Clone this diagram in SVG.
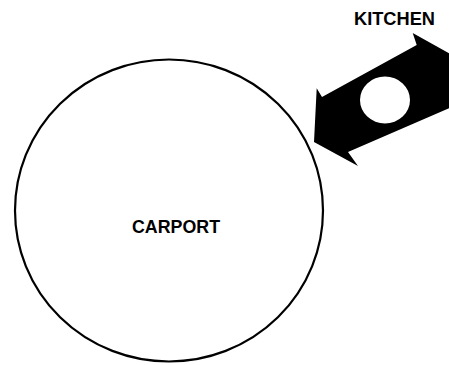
<svg xmlns="http://www.w3.org/2000/svg" width="449" height="365" viewBox="0 0 449 365">
  <style>
    .lbl { font-family: "Liberation Sans", Arial, sans-serif; font-weight: bold; font-size: 18px; fill: #000; }
    .outline { fill: none; stroke: #000; stroke-width: 2.2; }
  </style>
  <rect x="0" y="0" width="449" height="365" fill="#fff"/>
  <g id="carport">
    <ellipse class="outline" cx="169" cy="210.5" rx="154" ry="151"/>
    <text class="lbl" x="132" y="232.5" textLength="88" lengthAdjust="spacingAndGlyphs">CARPORT</text>
  </g>
  <g id="kitchen">
    <text class="lbl" x="354" y="25" textLength="81" lengthAdjust="spacingAndGlyphs">KITCHEN</text>
  </g>
  <g id="connectors">
    <path fill="#000" fill-rule="evenodd" d="M314,142 L316.7,88.3 L322,97 L416.7,45 L412.7,33 L449,53.3 L475,68 L475,97.5 L449,108.3 L348,152 L358,166 Z M410,100 A25,23.5 0 1,0 360,100 A25,23.5 0 1,0 410,100 Z"/>
  </g>
</svg>
